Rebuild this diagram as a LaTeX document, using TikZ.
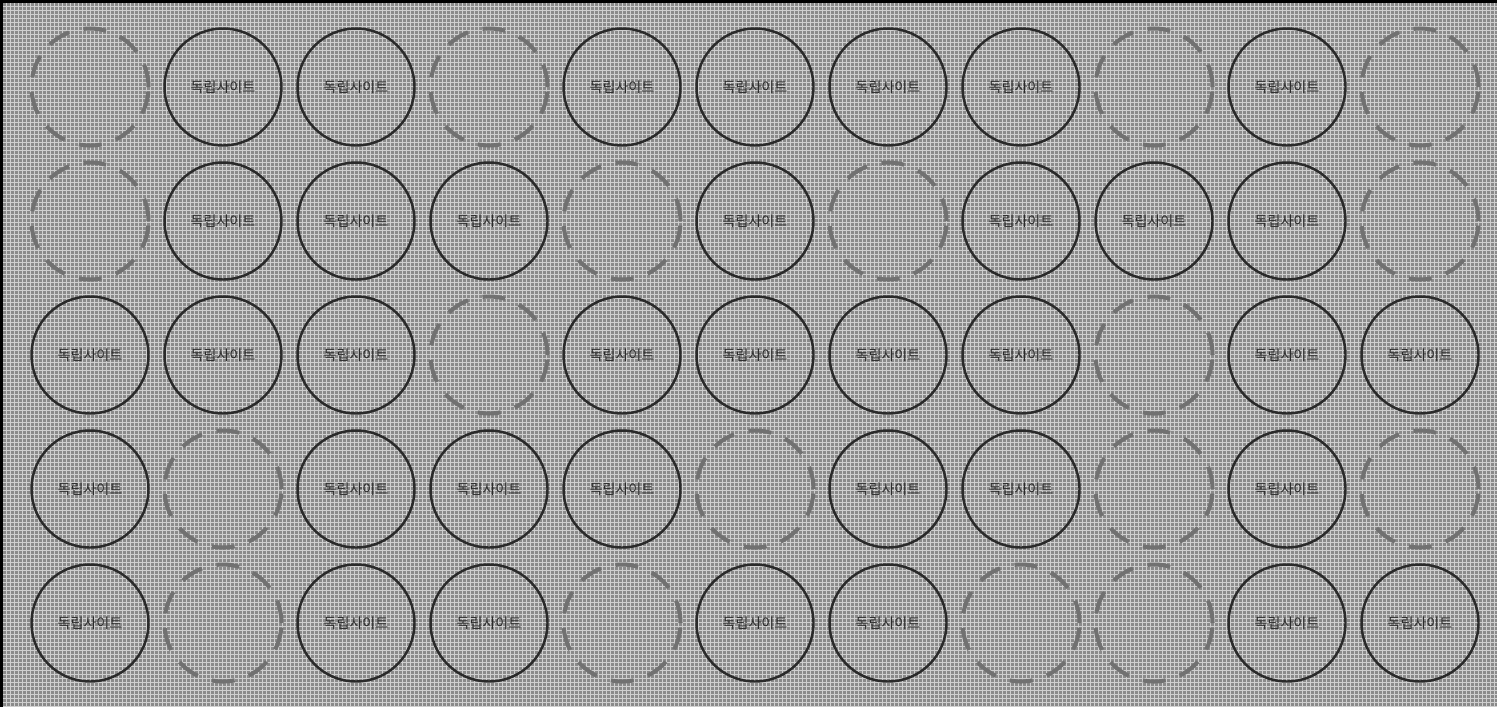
\documentclass[tikz,border=0pt]{standalone}
\usepackage{fontspec}
\newfontfamily\kofont{Noto Sans CJK KR}
\definecolor{bggray}{HTML}{8A8A8A}
\definecolor{gridgray}{HTML}{CFCFCF}
\definecolor{ringdark}{HTML}{2A2A2A}
\definecolor{ringgray}{HTML}{717171}

\begin{document}
\begin{tikzpicture}[x=0.02cm, y=-0.02cm, line cap=butt,
  sitecircle/.style={circle, draw=ringdark, line width=1.4pt, minimum size=2.34cm,
    inner sep=0pt, text=ringdark, font=\kofont\fontsize{8}{9.5}\selectfont},
  gapcircle/.style={circle, draw=ringgray, line width=2.3pt, minimum size=2.34cm,
    inner sep=0pt, dash pattern=on 13pt off 8.5pt},
  gridline/.style={draw=gridgray, line width=0.02cm}]

  \useasboundingbox (0,0) rectangle (1497,707);

  % the textured backdrop
  \fill[bggray] (0,0) rectangle (1497,707);
  \foreach \gx in {2,6,...,1497}{
    \draw[gridline] (\gx,0) -- (\gx,707);
  }
  \foreach \gy in {2,6,...,707}{
    \draw[gridline] (0,\gy) -- (1497,\gy);
  }

  % frame on the top and left edges
  \draw[black, line width=0.06cm] (1497,1.5) -- (1.5,1.5) -- (1.5,707);

  % 1 = site, 0 = empty slot
  \foreach \row [count=\r] in {{0,1,1,0,1,1,1,1,0,1,0},
                               {0,1,1,1,0,1,0,1,1,1,0},
                               {1,1,1,0,1,1,1,1,0,1,1},
                               {1,0,1,1,1,0,1,1,0,1,0},
                               {1,0,1,1,0,1,1,0,0,1,1}}{
    \foreach \k [count=\c] in \row {
      \ifnum\k=1
        \node[sitecircle] (c\r-\c) at ({90+133*(\c-1)},{87+134*(\r-1)}) {독립사이트};
      \else
        \node[gapcircle] (c\r-\c) at ({90+133*(\c-1)},{87+134*(\r-1)}) {};
      \fi
    }
  }

\end{tikzpicture}
\end{document}
